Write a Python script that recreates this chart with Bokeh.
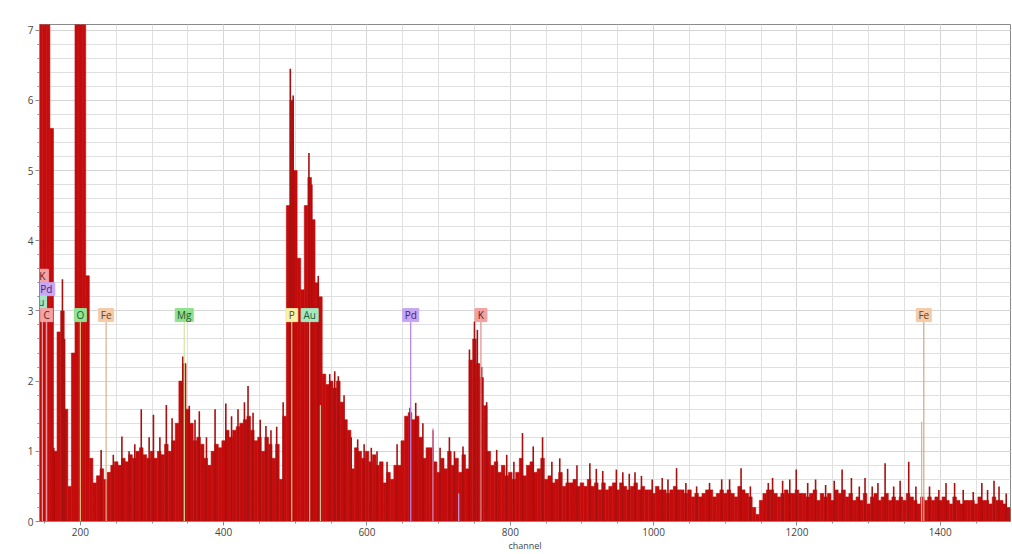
from bokeh.plotting import figure
from bokeh.models import Range1d, SingleIntervalTicker, Label, ColumnDataSource
from bokeh.embed import file_html
from bokeh.resources import INLINE
from bokeh.core.properties import value

# ---------------- data ----------------
# bulk level of the spectrum (cps) per 5-channel bin, starting at channel 145
BIN_START = 145
BIN_STEP = 5

body_145_390 = [10, 10, 10, 5.6, 1.0, 2.7, 3.0, 1.6, 0.5, 2.4,
                10, 10, 10, 3.5, 0.9, 0.55, 0.65, 0.75, 0.6, 0.7,
                0.8, 0.85, 0.8, 0.9, 0.85, 0.95, 0.9, 1.0, 1.05, 0.95,
                0.9, 1.0, 0.9, 1.0, 0.95, 1.1, 1.0, 1.15, 1.4, 2.0,
                2.25, 1.6, 1.4, 1.15, 1.2, 1.1, 0.9, 0.8, 1.0, 1.1]
body_395_640 = [1.05, 1.15, 1.3, 1.2, 1.3, 1.35, 1.4, 1.45, 1.5, 1.3,
                1.15, 1.2, 1.0, 1.2, 1.1, 0.9, 1.1, 0.6, 1.5, 4.5,
                6.0, 5.0, 3.75, 3.3, 4.5, 4.9, 4.3, 3.4, 3.2, 2.1,
                1.95, 2.0, 1.9, 2.0, 1.7, 1.45, 1.3, 0.75, 1.05, 1.0,
                0.9, 1.0, 0.85, 0.95, 0.8, 0.85, 0.55, 0.7, 0.6, 0.8]
body_645_890 = [0.8, 1.15, 1.5, 1.55, 1.45, 1.5, 1.2, 0.9, 1.05, 1.05,
                0.85, 0.7, 0.9, 0.75, 1.0, 0.8, 0.9, 0.7, 0.95, 0.75,
                2.3, 2.6, 2.25, 2.05, 1.65, 1.0, 0.8, 0.85, 0.7, 0.8,
                0.65, 0.7, 0.6, 0.7, 0.9, 0.65, 0.8, 0.85, 0.7, 0.75,
                0.9, 0.6, 0.65, 0.55, 0.6, 0.7, 0.5, 0.55, 0.55, 0.6]
body_895_1140 = [0.5, 0.55, 0.5, 0.6, 0.5, 0.55, 0.45, 0.55, 0.45, 0.5,
                 0.55, 0.45, 0.55, 0.5, 0.45, 0.5, 0.55, 0.45, 0.5, 0.45,
                 0.45, 0.4, 0.5, 0.45, 0.45, 0.4, 0.45, 0.5, 0.45, 0.45,
                 0.4, 0.45, 0.35, 0.4, 0.35, 0.4, 0.45, 0.45, 0.35, 0.4,
                 0.45, 0.4, 0.45, 0.4, 0.35, 0.5, 0.45, 0.4, 0.35, 0.2]
body_1145_1390 = [0.1, 0.3, 0.4, 0.45, 0.45, 0.4, 0.35, 0.4, 0.45, 0.4,
                  0.4, 0.45, 0.4, 0.4, 0.35, 0.4, 0.45, 0.3, 0.4, 0.35,
                  0.4, 0.3, 0.45, 0.4, 0.45, 0.35, 0.4, 0.3, 0.35, 0.3,
                  0.4, 0.25, 0.35, 0.4, 0.3, 0.35, 0.4, 0.3, 0.35, 0.3,
                  0.35, 0.3, 0.4, 0.35, 0.3, 0.25, 0.35, 0.3, 0.35, 0.3]
body_1395_1495 = [0.35, 0.3, 0.35, 0.3, 0.25, 0.35, 0.3, 0.25, 0.3, 0.3,
                  0.3, 0.25, 0.35, 0.3, 0.3, 0.25, 0.35, 0.3, 0.3, 0.25, 0.2]

# narrow noise spikes above the bulk level: channel and cps
spike_channels = [163, 175, 178, 229, 246, 258, 268, 276, 285, 296,
                  302, 311, 320, 328, 343, 352, 360, 366, 376, 388,
                  403, 411, 420, 429, 434, 441, 451, 459, 466, 474,
                  483, 493, 497, 519, 523, 532, 548, 555, 560, 568,
                  578, 587, 596, 606, 614, 628, 642, 660, 668, 678,
                  692, 702, 715, 722, 734, 743, 750, 754, 760, 767,
                  781, 795, 805, 817, 832, 845, 858, 869, 880, 893,
                  911, 920, 929, 948, 957, 966, 974, 983, 998, 1012,
                  1020, 1032, 1045, 1060, 1078, 1095, 1106, 1122, 1135, 1160,
                  1166, 1180, 1190, 1199, 1215, 1226, 1240, 1252, 1263, 1276,
                  1287, 1295, 1305, 1313, 1323, 1335, 1344, 1356, 1366, 1385,
                  1398, 1408, 1420, 1432, 1446, 1458, 1466, 1475, 1482, 1492]
spike_cps = [1.05, 3.45, 2.6, 1.02, 0.95, 1.21, 1.0, 1.1, 1.6, 1.2,
             1.52, 1.2, 1.66, 1.47, 2.35, 1.65, 1.45, 1.57, 1.2, 1.6,
             1.68, 1.5, 1.6, 1.7, 1.93, 1.55, 1.45, 1.36, 1.3, 1.35,
             1.7, 6.45, 6.07, 5.25, 4.8, 3.5, 2.1, 2.14, 2.07, 1.8,
             1.2, 1.17, 1.1, 1.05, 1.0, 0.85, 1.1, 1.62, 1.69, 1.4,
             1.3, 1.05, 1.2, 1.0, 1.07, 2.45, 2.85, 2.73, 2.2, 1.7,
             1.02, 0.95, 0.85, 1.26, 1.07, 1.2, 0.85, 0.9, 0.75, 0.8,
             0.83, 0.75, 0.72, 0.74, 0.7, 0.68, 0.7, 0.65, 0.6, 0.62,
             0.6, 0.76, 0.55, 0.5, 0.55, 0.6, 0.6, 0.76, 0.5, 0.55,
             0.62, 0.58, 0.6, 0.74, 0.55, 0.6, 0.52, 0.58, 0.74, 0.62,
             0.5, 0.62, 0.5, 0.55, 0.83, 0.5, 0.58, 0.85, 0.5, 0.5,
             0.45, 0.55, 0.55, 0.45, 0.42, 0.55, 0.45, 0.58, 0.5, 0.4]

# element markers
elem_labels = ["K", "Pd", "Au", "C", "O", "Fe", "Mg", "P", "Au", "Pd", "K", "Fe"]
elem_channels = [147, 152.5, 141, 153, 200, 236, 345, 495, 520, 661, 759, 1377]

# secondary marker lines (no label)
sec_channels = [535, 692, 728, 1374]
sec_heights = [1.66, 1.33, 0.4, 1.42]

# ---------------- styles ----------------
elem_label_y = [3.50, 3.31, 3.12, 2.94, 2.94, 2.94, 2.94, 2.94, 2.94, 2.94, 2.94, 2.94]
elem_box_w = [12, 17, 17, 12, 12, 15, 18, 12, 17, 16, 12, 15]
elem_fill = ["#f2a4a4", "#c8a8f4", "#a4e4c8", "#f4a2a2", "#94e394", "#f5caa6",
             "#8fe08f", "#fbf0a6", "#a6e8c0", "#c6a6f2", "#f2a0a0", "#f5caa6"]
elem_line = ["#e8a0a0", "#c090e8", "#d8c098", "#e89a9a", "#e8c080", "#d9b48f",
             "#d4e8a0", "#f0c060", "#d4b890", "#b482e0", "#e08c8c", "#d2a884"]
elem_text = ["#5a2020", "#4a2080", "#1f5a3a", "#5a2020", "#1f5a1f", "#6a4020",
             "#1f5a1f", "#5a5020", "#1f5a3a", "#4a2080", "#5a2020", "#6a4020"]
sec_colors = ["#d8b890", "#d890c0", "#c0a0e8", "#d8b090"]
RED = "#c40c0c"

body = (body_145_390 + body_395_640 + body_645_890 +
        body_895_1140 + body_1145_1390 + body_1395_1495)
channels = [BIN_START + BIN_STEP * i for i in range(len(body))]

p = figure(width=1012, height=554, output_backend="svg", toolbar_location=None,
           x_range=Range1d(143, 1498), y_range=Range1d(0, 7.08),
           min_border_left=39, min_border_right=2, min_border_top=24,
           min_border_bottom=32)
p.background_fill_color = "white"
p.border_fill_color = "white"
p.outline_line_color = "#8a8a8a"
p.outline_line_width = 1

xt = SingleIntervalTicker(interval=200, num_minor_ticks=4)
yt = SingleIntervalTicker(interval=1, num_minor_ticks=5)
p.xaxis.ticker = xt
p.yaxis.ticker = yt
p.xgrid.ticker = xt
p.ygrid.ticker = yt
for g in (p.xgrid, p.ygrid):
    g.grid_line_color = "#d6d6d6"
    g.minor_grid_line_color = "#e0e0e0"
    g.grid_line_width = 1
    g.minor_grid_line_width = 1

for ax in (p.xaxis, p.yaxis):
    ax.axis_line_color = "#8a8a8a"
    ax.major_tick_line_color = "#8a8a8a"
    ax.minor_tick_line_color = "#8a8a8a"
    ax.major_tick_out = 4
    ax.major_tick_in = 0
    ax.minor_tick_out = 2
    ax.minor_tick_in = 0
    ax.major_label_text_font = "Open Sans"
    ax.major_label_text_font_size = "10px"
    ax.major_label_text_color = "#444444"
    ax.major_label_standoff = 2

p.xaxis.axis_label = "channel"
p.xaxis.axis_label_text_font = "Open Sans"
p.xaxis.axis_label_text_font_size = "9px"
p.xaxis.axis_label_text_font_style = "normal"
p.xaxis.axis_label_text_color = "#444444"
p.xaxis.axis_label_standoff = 0

# spectrum bulk
src = ColumnDataSource(dict(x=channels, top=body))
p.vbar(x="x", top="top", width=BIN_STEP, bottom=0, source=src,
       fill_color=RED, line_color=RED, line_width=0.6)
# narrow spikes
p.segment(x0=spike_channels, y0=[0] * len(spike_channels), x1=spike_channels,
          y1=spike_cps, line_color="#a81010", line_width=1.6)

# secondary marker lines
p.segment(x0=sec_channels, y0=[0] * len(sec_channels), x1=sec_channels,
          y1=sec_heights, line_color=sec_colors, line_width=1.2)

# element marker lines
p.segment(x0=elem_channels, y0=[0] * len(elem_channels), x1=elem_channels,
          y1=[y - 0.09 for y in elem_label_y], line_color=elem_line, line_width=1.2)

# element label boxes
p.rect(x=elem_channels, y=elem_label_y, width=elem_box_w, height=13,
       width_units="screen", height_units="screen",
       fill_color=elem_fill, line_color=elem_fill, line_width=1)
p.text(x=elem_channels, y=elem_label_y, text=elem_labels, text_align="center",
       text_baseline="middle", text_font=value("Open Sans"),
       text_font_size="10px", text_color=elem_text)

p.add_layout(Label(x=143, y=7.08, text="cps", x_offset=2, y_offset=1,
                   text_baseline="bottom", text_font="Open Sans",
                   text_font_size="9px", text_color="#444444"))

open("out.html", "w").write(file_html(p, INLINE))
